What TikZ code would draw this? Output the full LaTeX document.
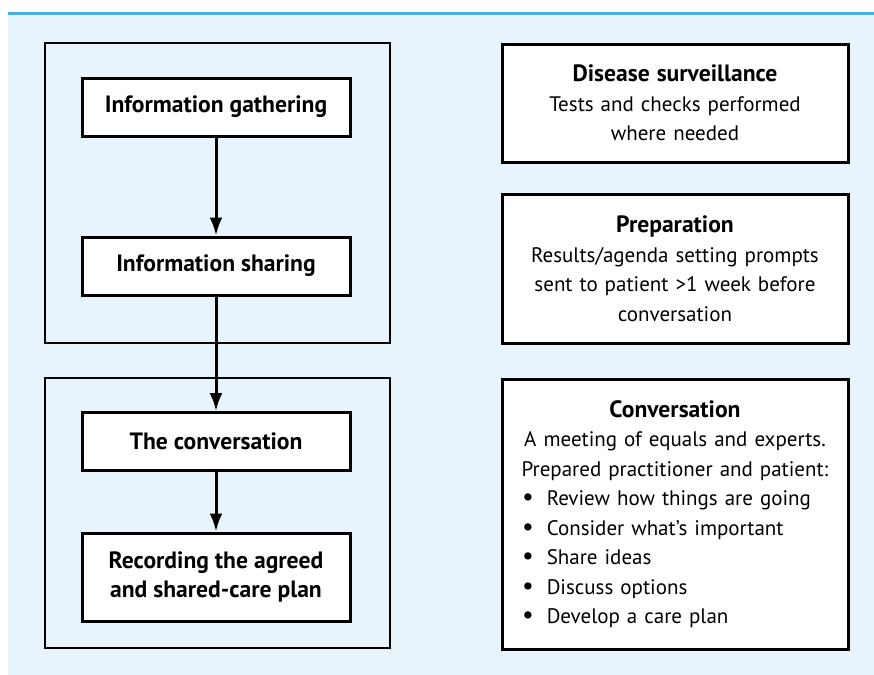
\documentclass[tikz,border=0pt]{standalone}
\usepackage{fontspec}
\setmainfont{PT Sans}
\usetikzlibrary{arrows.meta}
\definecolor{panelblue}{HTML}{E8F4FC}
\definecolor{rulecol}{HTML}{4AAEE4}
\newcommand{\bodysize}{\fontsize{10.5}{14.75}\selectfont}
\newcommand{\boxhead}[1]{{\fontsize{11.8}{14.75}\selectfont\bfseries #1}}
\newcommand{\dotitem}{\hspace*{6.5pt}{\fontsize{13}{14}\selectfont\textbullet}\hspace{6.5pt}}
\tikzset{
  stage/.style={draw, line width=1.5pt, fill=white, minimum width=134pt, align=center,
    font=\fontsize{11.8}{14.75}\selectfont\bfseries},
  group/.style={draw, line width=1pt},
  infobox/.style={draw, line width=1.5pt, fill=white, minimum width=173pt, text width=166pt,
    align=center, font=\bodysize},
  flow/.style={line width=1.5pt, -{Latex[length=9pt,width=6.5pt]}}
}
\begin{document}
\begin{tikzpicture}[x=0.5pt,y=-0.5pt]
            \useasboundingbox (0,0) rectangle (874,675);
            \fill[panelblue] (8,14) rectangle (874,675);
            \draw[rulecol, line width=1.6pt] (8,13.5) -- (874,13.5);
            % left column
            \draw[group] (45,43) rectangle (390,343);
            \draw[group] (45,378) rectangle (390,648);
            \node[stage, minimum height=29pt] (gather) at (216,107) {Information gathering};
            \node[stage, minimum height=29pt] (share) at (216,266) {Information sharing};
            \node[stage, minimum height=29pt] (talk) at (216,441.5) {The conversation};
            \node[stage, minimum height=44pt] (record) at (216,577) {Recording the agreed\\and shared-care plan};
            \draw[flow] (gather) -- (share);
            \draw[flow] (share) -- (talk);
            \draw[flow] (talk) -- (record);
            % right column
            \node[infobox, minimum height=59pt] (surveil) at (675,103)
              {\boxhead{Disease surveillance}\\Tests and checks performed\\where needed};
            \node[infobox, minimum height=74.5pt] (prep) at (675,268.5)
              {\boxhead{Preparation}\\Results/agenda setting prompts\\sent to patient >1 week before\\conversation};
            \node[infobox, minimum height=135pt, align=left] (meet) at (675,514)
              {{\centering\boxhead{Conversation}\\A meeting of equals and experts.\\Prepared practitioner and patient:\par}
               \dotitem Review how things are going\\
               \dotitem Consider what’s important\\
               \dotitem Share ideas\\
               \dotitem Discuss options\\
               \dotitem Develop a care plan};
        \end{tikzpicture}
\end{document}
